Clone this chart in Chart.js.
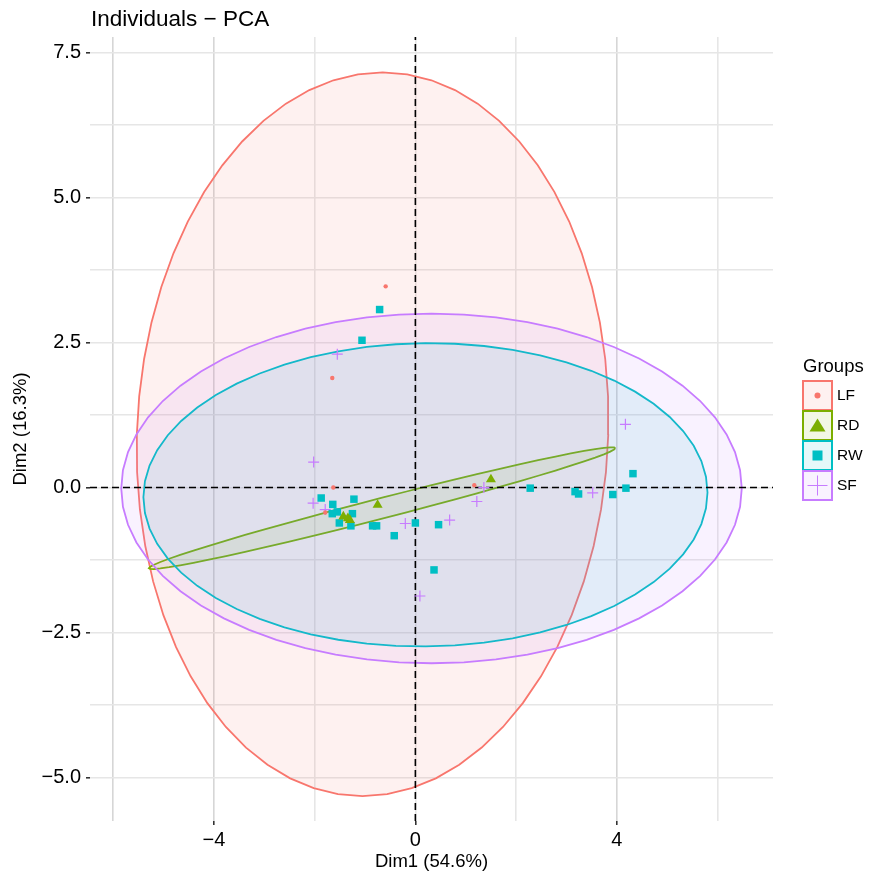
<!DOCTYPE html>
<html>
<head>
<meta charset="utf-8">
<script src="https://cdn.jsdelivr.net/npm/chart.js@4.4.1/dist/chart.umd.min.js"></script>
<style>
  html, body { margin: 0; padding: 0; background: #fff; }
  #wrap { width: 869px; height: 876px; }
</style>
</head>
<body>
<div id="wrap"><canvas id="pca" width="869" height="876"></canvas></div>
<script>
const groups = ["LF", "RD", "RW", "SF"];
const groupColors = ["#F8766D", "#7CAE00", "#00BFC4", "#C77CFF"];

// individuals, [Dim1, Dim2]
const lfPoints = [[-0.59, 3.47], [-1.65, 1.89], [-1.63, 0.00], [-1.79, -0.43], [1.17, 0.04]];
const rdPoints = [[-1.43, -0.50], [-1.34, -0.53], [-1.30, -0.56], [-0.75, -0.30], [1.50, 0.14]];
const rwPoints = [[-0.71, 3.07], [-1.06, 2.54], [-1.87, -0.18], [-1.64, -0.29], [-1.22, -0.20],
  [-1.65, -0.45], [-1.55, -0.42], [-1.51, -0.61], [-1.25, -0.45], [-1.28, -0.66], [-0.85, -0.66],
  [-0.77, -0.66], [0.00, -0.61], [-0.42, -0.83], [0.46, -0.64], [0.37, -1.42], [2.28, -0.01],
  [3.17, -0.07], [3.24, -0.11], [3.92, -0.12], [4.18, -0.01], [4.32, 0.24]];
const sfPoints = [[-2.02, 0.44], [-2.03, -0.27], [-1.79, -0.38], [-1.55, 2.30], [-0.20, -0.62],
  [0.68, -0.56], [1.22, -0.24], [1.36, 0.00], [0.09, -1.87], [3.52, -0.09], [4.17, 1.09]];

// concentration ellipses: centre, right vertex and top vertex (offsets from centre)
const ellipseCenters = [[-0.85, 0.92], [-0.66, -0.355], [0.20, -0.125], [0.32, -0.015]];
const ellipseRight = [[4.68, 0], [4.63, 1.035], [5.60, 0.04], [6.16, 0]];
const ellipseTop = [[0.20, 6.24], [0, 0.18], [0, 2.615], [0, 3.015]];

const xRange = [-6.46, 7.10];
const yRange = [-5.75, 7.77];
const xLabelTicks = [-4, 0, 4];
const yLabelStep = 2.5;

const allPoints = [lfPoints, rdPoints, rwPoints, sfPoints];
const pointStyles = ["circle", "triangle", "rect", "cross"];
const pointSizes = [2.2, 5.8, 5.3, 5.5];

function hexA(hex, a) {
  const n = parseInt(hex.slice(1), 16);
  return `rgba(${(n >> 16) & 255}, ${(n >> 8) & 255}, ${n & 255}, ${a})`;
}

function ellipseOutline(i) {
  const [cx, cy] = ellipseCenters[i];
  const [rx, ry] = ellipseRight[i];
  const [tx, ty] = ellipseTop[i];
  const pts = [];
  for (let k = 0; k <= 60; k++) {
    const t = (k / 60) * 2 * Math.PI;
    pts.push({ x: cx + rx * Math.cos(t) + tx * Math.sin(t), y: cy + ry * Math.cos(t) + ty * Math.sin(t) });
  }
  return pts;
}

const fmt = v => (v < 0 ? "\u2212" : "") + Math.abs(v);
const isYLabel = v => Math.abs(v / yLabelStep - Math.round(v / yLabelStep)) < 1e-6;
const isXLabel = v => xLabelTicks.some(t => Math.abs(t - v) < 1e-6);
const FONT = "'Liberation Sans', Arial, sans-serif";

const datasets = [];

// points on top
groups.forEach((g, i) => {
  datasets.push({
    label: g,
    data: allPoints[i].map(p => ({ x: p[0], y: p[1] })),
    pointStyle: pointStyles[i],
    pointRadius: pointSizes[i],
    backgroundColor: groupColors[i],
    borderColor: groupColors[i],
    borderWidth: i === 3 ? 1.2 : 0,
    order: 0
  });
});

// reference lines at 0
datasets.push({
  type: "line", label: "h0",
  data: [{ x: xRange[0], y: 0 }, { x: xRange[1], y: 0 }],
  borderColor: "#000", borderWidth: 1.6, borderDash: [7, 4],
  pointRadius: 0, fill: false, order: 1
});
datasets.push({
  type: "line", label: "v0",
  data: [{ x: 0, y: yRange[0] }, { x: 0, y: yRange[1] }],
  borderColor: "#000", borderWidth: 1.6, borderDash: [7, 4],
  pointRadius: 0, fill: false, order: 1
});

// ellipses, LF drawn first, SF last
groups.forEach((g, i) => {
  datasets.push({
    type: "line",
    label: g + " ellipse",
    data: ellipseOutline(i),
    borderColor: groupColors[i],
    borderWidth: 1.8,
    backgroundColor: hexA(groupColors[i], 0.1),
    fill: "shape",
    tension: 0,
    pointRadius: 0,
    order: 5 - i
  });
});

const textPlugin = {
  id: "pcaText",
  afterDraw(chart) {
    const ctx = chart.ctx;
    const area = chart.chartArea;
    ctx.save();
    ctx.fillStyle = "#000";
    ctx.font = "22.5px " + FONT;
    ctx.textBaseline = "alphabetic";
    ctx.textAlign = "left";
    ctx.fillText("Individuals \u2212 PCA", area.left + 1, 26);

    // legend
    const lx = 803, ly = 381, size = 29;
    ctx.font = "18.5px " + FONT;
    ctx.textBaseline = "middle";
    ctx.fillText("Groups", lx, 367);
    ctx.font = "15.5px " + FONT;
    groups.forEach((g, i) => {
      const y = ly + i * 30;
      const col = groupColors[i];
      ctx.fillStyle = hexA(col, 0.1);
      ctx.fillRect(lx, y, size, size);
      ctx.strokeStyle = col;
      ctx.lineWidth = 2;
      ctx.strokeRect(lx, y, size, size);
      const cx = lx + size / 2, cy = y + size / 2;
      ctx.fillStyle = col;
      ctx.beginPath();
      if (i === 0) {
        ctx.arc(cx, cy, 3, 0, Math.PI * 2);
        ctx.fill();
      } else if (i === 1) {
        ctx.moveTo(cx, cy - 7);
        ctx.lineTo(cx + 8, cy + 6);
        ctx.lineTo(cx - 8, cy + 6);
        ctx.closePath();
        ctx.fill();
      } else if (i === 2) {
        ctx.fillRect(cx - 5, cy - 5, 10, 10);
      } else {
        ctx.strokeStyle = col;
        ctx.lineWidth = 1;
        ctx.moveTo(cx - 10, cy); ctx.lineTo(cx + 10, cy);
        ctx.moveTo(cx, cy - 10); ctx.lineTo(cx, cy + 10);
        ctx.stroke();
      }
      ctx.fillStyle = "#000";
      ctx.fillText(g, 837, cy);
    });
    ctx.restore();
  }
};

new Chart(document.getElementById("pca"), {
  type: "scatter",
  data: { datasets },
  options: {
    responsive: false,
    devicePixelRatio: 1,
    animation: false,
    events: [],
    layout: { padding: { top: 37, right: 96, bottom: 0, left: 0 } },
    plugins: { legend: { display: false }, tooltip: { enabled: false } },
    scales: {
      x: {
        type: "linear",
        min: xRange[0], max: xRange[1],
        afterFit(scale) { scale.height = 55; },
        border: { display: false },
        grid: {
          color: ctx => (ctx.tick && [-6, -4, 4].includes(ctx.tick.value)) ? "#D6D6D6" : "#E6E6E6",
          lineWidth: 1.6,
          tickLength: 4,
          tickColor: ctx => (ctx.tick && isXLabel(ctx.tick.value)) ? "#333" : "rgba(0,0,0,0)"
        },
        ticks: {
          stepSize: 2, includeBounds: false, autoSkip: false, maxRotation: 0,
          padding: 3,
          color: "#000",
          font: { family: FONT, size: 20 },
          callback: v => isXLabel(v) ? fmt(v) : ""
        },
        title: {
          display: true, text: "Dim1 (54.6%)", color: "#000",
          font: { family: FONT, size: 18.5 },
          padding: { top: 0, bottom: 3 }
        }
      },
      y: {
        type: "linear",
        min: yRange[0], max: yRange[1],
        afterFit(scale) { scale.width = 90; },
        border: { display: false },
        grid: {
          color: "#E6E6E6",
          lineWidth: 1.6,
          tickLength: 4,
          tickColor: ctx => (ctx.tick && isYLabel(ctx.tick.value)) ? "#333" : "rgba(0,0,0,0)"
        },
        ticks: {
          stepSize: 1.25, includeBounds: false, autoSkip: false,
          padding: 5,
          color: "#000",
          font: { family: FONT, size: 20 },
          callback: v => isYLabel(v) ? fmt(v).replace(/^(\u2212?\d+)$/, "$1.0") : ""
        },
        title: {
          display: true, text: "Dim2 (16.3%)", color: "#000",
          font: { family: FONT, size: 18.5 },
          padding: { top: 10, bottom: 0 }
        }
      }
    }
  },
  plugins: [textPlugin]
});
</script>
</body>
</html>
